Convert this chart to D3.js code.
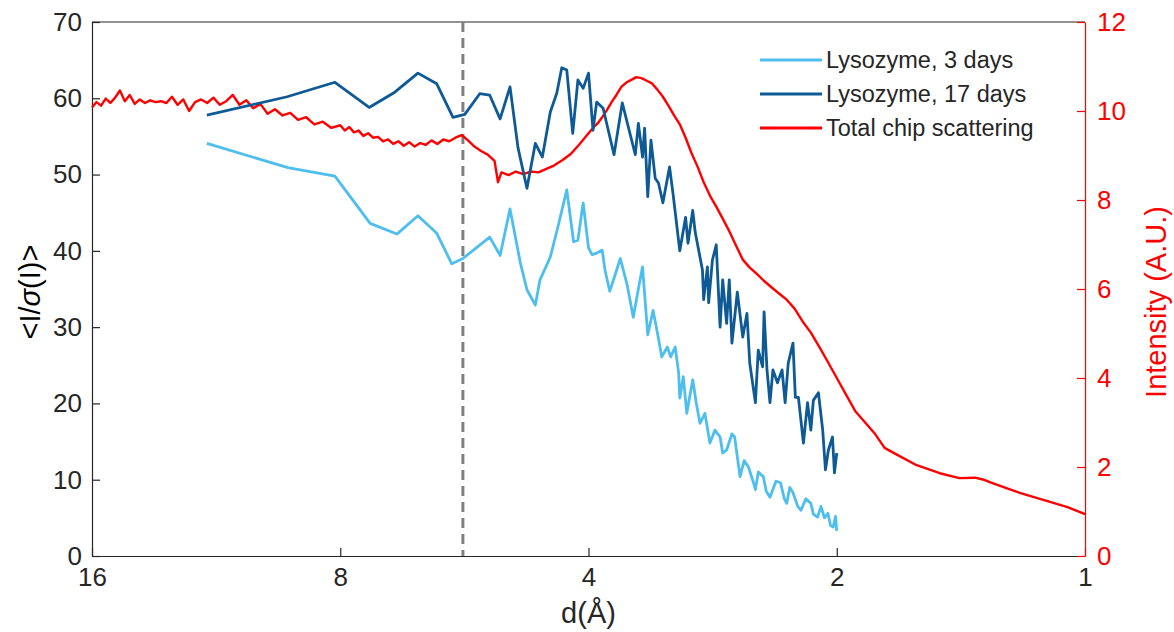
<!DOCTYPE html>
<html>
<head>
<meta charset="utf-8">
<script src="https://cdn.jsdelivr.net/npm/d3@7"></script>
<style>
  body { margin: 0; background: #fff; }
  svg { font-family: "Liberation Sans", Arial, Helvetica, sans-serif; }
</style>
</head>
<body>
<script>
// resolution d (Angstrom) and <I/sigma(I)> for the 3 day sample
var d_3days = [11.61, 9.26, 8.12, 7.36, 6.83, 6.44, 6.11, 5.86, 5.68, 5.27, 5.12, 4.98, 4.84, 4.75, 4.64, 4.58, 4.45, 4.36, 4.25, 4.17,
  4.12, 4.06, 4.00, 3.96, 3.91, 3.85, 3.82, 3.77, 3.71, 3.66, 3.59, 3.53, 3.48, 3.44, 3.39, 3.34, 3.29, 3.26, 3.21, 3.18,
  3.14, 3.11, 3.10, 3.07, 3.04, 2.99, 2.96, 2.93, 2.89, 2.85, 2.81, 2.77, 2.75, 2.72, 2.68, 2.66, 2.62, 2.59, 2.56, 2.53,
  2.51, 2.49, 2.455, 2.435, 2.41, 2.37, 2.34, 2.315, 2.30, 2.28, 2.26, 2.23, 2.21, 2.18, 2.15, 2.135, 2.11, 2.09, 2.07, 2.05,
  2.035, 2.02, 2.007, 2.0];
var isig_3days = [54.1, 50.9, 49.8, 43.6, 42.2, 44.6, 42.3, 38.3, 39.0, 41.8, 39.4, 45.5, 38.5, 34.9, 32.9, 36.2, 39.2, 43.0, 48.0, 41.2,
  41.4, 46.3, 40.4, 39.5, 39.7, 40.1, 37.5, 34.7, 37.0, 39.0, 35.5, 31.3, 35.0, 37.9, 29.0, 32.2, 28.5, 26.1, 27.4, 26.1,
  27.4, 24.0, 20.7, 23.5, 18.7, 23.1, 20.0, 17.4, 18.7, 14.8, 16.5, 15.6, 13.5, 13.9, 16.0, 15.6, 10.4, 12.5, 11.7, 10.0,
  8.7, 11.0, 10.4, 8.5, 7.7, 9.8, 9.6, 7.5, 6.9, 9.0, 8.3, 6.5, 6.0, 7.5, 6.9, 5.5, 5.1, 6.5, 5.0, 5.6,
  4.0, 3.8, 5.2, 3.3];

// 17 day sample
var d_17days = [11.61, 9.28, 8.12, 7.38, 6.87, 6.44, 6.11, 5.84, 5.65, 5.42, 5.27, 5.12, 4.98, 4.87, 4.75, 4.64, 4.55, 4.45, 4.37, 4.31,
  4.25, 4.18, 4.12, 4.06, 4.00, 3.95, 3.91, 3.84, 3.725, 3.64, 3.51, 3.48, 3.44, 3.42, 3.39, 3.36, 3.32, 3.29, 3.25, 3.19,
  3.16, 3.10, 3.05, 3.03, 2.99, 2.97, 2.91, 2.90, 2.87, 2.86, 2.83, 2.80, 2.77, 2.75, 2.72, 2.70, 2.68, 2.64, 2.60, 2.57,
  2.55, 2.51, 2.49, 2.46, 2.45, 2.43, 2.41, 2.39, 2.36, 2.33, 2.31, 2.29, 2.26, 2.245, 2.226, 2.195, 2.17, 2.15, 2.135, 2.105,
  2.08, 2.064, 2.047, 2.024, 2.013, 2.0];
var isig_17days = [57.8, 60.2, 62.1, 58.8, 60.8, 63.3, 61.9, 57.5, 57.9, 60.6, 60.4, 57.3, 61.5, 53.5, 48.2, 54.1, 52.3, 58.2, 60.7, 64.0,
  63.7, 55.4, 62.4, 61.3, 63.3, 55.8, 59.5, 58.7, 52.6, 59.4, 52.6, 56.7, 52.3, 56.1, 47.1, 54.5, 49.5, 48.9, 46.3, 51.0,
  47.6, 40.0, 44.4, 41.0, 45.3, 42.5, 37.5, 33.6, 37.9, 33.2, 38.8, 40.8, 30.0, 36.2, 30.5, 36.2, 27.9, 34.6, 28.7, 31.8,
  25.3, 20.1, 27.0, 24.8, 32.0, 24.4, 20.1, 24.4, 22.7, 24.4, 20.1, 25.3, 27.9, 20.8, 20.8, 14.8, 20.1, 16.5, 20.4, 21.4,
  16.5, 11.3, 13.9, 15.6, 10.9, 13.5];

// total chip scattering, right axis (A.U.)
var d_chip = [16.0, 15.8, 15.6, 15.4, 15.2, 15.0, 14.8, 14.6, 14.4, 14.2, 14.0, 13.8, 13.6, 13.4, 13.2, 13.0, 12.8, 12.6, 12.4, 12.2,
  12.0, 11.8, 11.6, 11.4, 11.2, 11.0, 10.8, 10.6, 10.4, 10.2, 10.0, 9.8, 9.6, 9.4, 9.2, 9.0, 8.8, 8.6, 8.4, 8.2,
  8.0, 7.9, 7.8, 7.7, 7.6, 7.5, 7.4, 7.3, 7.2, 7.1, 7.0, 6.9, 6.8, 6.7, 6.6, 6.5, 6.4, 6.3, 6.2, 6.1,
  6.0, 5.9, 5.8, 5.7, 5.6, 5.5, 5.4, 5.3, 5.2, 5.15, 5.1, 5.0, 4.9, 4.8, 4.7, 4.6, 4.5, 4.4, 4.3, 4.2,
  4.1, 4.0, 3.95, 3.9, 3.85, 3.8, 3.75, 3.7, 3.65, 3.6, 3.55, 3.5, 3.45, 3.4, 3.35, 3.3, 3.25, 3.2, 3.15, 3.1,
  3.05, 3.0, 2.95, 2.9, 2.85, 2.8, 2.75, 2.7, 2.65, 2.6, 2.55, 2.5, 2.45, 2.4, 2.35, 2.3, 2.25, 2.2, 2.15, 2.1,
  2.05, 2.0, 1.9, 1.8, 1.75, 1.7, 1.6, 1.5, 1.42, 1.36, 1.33, 1.3, 1.2, 1.1, 1.05, 1.0];
var int_chip = [10.08, 10.20, 10.12, 10.28, 10.18, 10.30, 10.46, 10.22, 10.36, 10.16, 10.26, 10.18, 10.24, 10.20, 10.22, 10.18, 10.32, 10.14, 10.26, 10.00,
  10.20, 10.26, 10.18, 10.30, 10.14, 10.22, 10.36, 10.14, 10.24, 10.06, 10.16, 9.94, 10.04, 9.90, 9.96, 9.80, 9.86, 9.70, 9.76, 9.62,
  9.68, 9.56, 9.64, 9.52, 9.56, 9.44, 9.50, 9.40, 9.42, 9.32, 9.36, 9.26, 9.32, 9.22, 9.30, 9.20, 9.28, 9.24, 9.34, 9.26,
  9.36, 9.32, 9.40, 9.46, 9.34, 9.20, 9.10, 9.02, 8.88, 8.40, 8.62, 8.56, 8.64, 8.58, 8.64, 8.62, 8.70, 8.78, 8.90, 9.04,
  9.26, 9.50, 9.62, 9.72, 9.86, 10.02, 10.20, 10.36, 10.54, 10.64, 10.70, 10.76, 10.74, 10.68, 10.62, 10.48, 10.32, 10.12, 9.90, 9.70,
  9.40, 9.05, 8.75, 8.40, 8.10, 7.85, 7.58, 7.30, 6.98, 6.66, 6.48, 6.34, 6.18, 6.04, 5.90, 5.76, 5.56, 5.27, 5.02, 4.70,
  4.36, 4.00, 3.26, 2.76, 2.43, 2.30, 2.04, 1.86, 1.75, 1.76, 1.72, 1.65, 1.42, 1.21, 1.10, 0.94];

var x_ticks = [16, 8, 4, 2, 1];
var left_ticks = [0, 10, 20, 30, 40, 50, 60, 70];
var right_ticks = [0, 2, 4, 6, 8, 10, 12];
var cutoff_d = 5.68;

var legend_labels = ["Lysozyme, 3 days", "Lysozyme, 17 days", "Total chip scattering"];
var legend_colors = ["#4dbeee", "#0e5a96", "#ff0000"];

var width = 1174, height = 632;
var plot_left = 92, plot_right = 1085, plot_top = 22, plot_bottom = 556;
var ink = "#262626";
var tick_font = "26px", title_font = "29px", legend_font = "23.5px";

var svg = d3.select("body").append("svg")
    .attr("width", width)
    .attr("height", height);

var x = d3.scaleLog().domain([16, 1]).range([plot_left, plot_right]);
var yL = d3.scaleLinear().domain([0, 70]).range([plot_bottom, plot_top]);
var yR = d3.scaleLinear().domain([0, 12]).range([plot_bottom, plot_top]);

// frame top
svg.append("line")
    .attr("x1", plot_left).attr("x2", plot_right)
    .attr("y1", plot_top).attr("y2", plot_top)
    .attr("stroke", ink).attr("stroke-width", 1.2);

var gx = svg.append("g")
    .attr("transform", "translate(0," + plot_bottom + ")")
    .call(d3.axisBottom(x).tickValues(x_ticks).tickFormat(d3.format("d"))
      .tickSize(-8).tickSizeOuter(0).tickPadding(12));

var gl = svg.append("g")
    .attr("transform", "translate(" + plot_left + ",0)")
    .call(d3.axisLeft(yL).tickValues(left_ticks).tickSize(-8).tickSizeOuter(0).tickPadding(10));

var gr = svg.append("g")
    .attr("transform", "translate(" + plot_right + ",0)")
    .call(d3.axisRight(yR).tickValues(right_ticks).tickSize(-8).tickSizeOuter(0).tickPadding(12));

[gx, gl].forEach(function(g){
  g.selectAll("path, line").attr("stroke", ink).attr("stroke-width", 1.2);
  g.selectAll("text").attr("fill", ink).style("font-size", tick_font);
});
gr.selectAll("path, line").attr("stroke", "#ff0000").attr("stroke-width", 1.2);
gr.selectAll("text").attr("fill", "#ff0000").style("font-size", tick_font);

// cutoff line
svg.append("line")
    .attr("x1", x(cutoff_d)).attr("x2", x(cutoff_d))
    .attr("y1", plot_top).attr("y2", plot_bottom)
    .attr("stroke", "#808080").attr("stroke-width", 3)
    .attr("stroke-dasharray", "10,6");

var lineL = d3.line().x(function(d){ return x(d[0]); }).y(function(d){ return yL(d[1]); });
var lineR = d3.line().x(function(d){ return x(d[0]); }).y(function(d){ return yR(d[1]); });

svg.append("path")
    .attr("d", lineR(d3.zip(d_chip, int_chip)))
    .attr("fill", "none").attr("stroke", legend_colors[2])
    .attr("stroke-width", 2.4).attr("stroke-linejoin", "round");

svg.append("path")
    .attr("d", lineL(d3.zip(d_3days, isig_3days)))
    .attr("fill", "none").attr("stroke", legend_colors[0])
    .attr("stroke-width", 2.8).attr("stroke-linejoin", "round");

svg.append("path")
    .attr("d", lineL(d3.zip(d_17days, isig_17days)))
    .attr("fill", "none").attr("stroke", legend_colors[1])
    .attr("stroke-width", 2.8).attr("stroke-linejoin", "round");

// legend
var leg = svg.append("g").selectAll("g")
    .data(legend_labels)
  .enter().append("g")
    .attr("transform", function(d, i){ return "translate(760," + (60 + i * 34) + ")"; });
leg.append("line")
    .attr("x1", 0).attr("x2", 62)
    .attr("stroke", function(d, i){ return legend_colors[i]; })
    .attr("stroke-width", 2.8);
leg.append("text")
    .attr("x", 66).attr("dy", "0.35em")
    .attr("fill", ink).style("font-size", legend_font)
    .text(function(d){ return d; });

// axis titles
svg.append("text")
    .attr("x", (plot_left + plot_right) / 2).attr("y", 623)
    .attr("text-anchor", "middle").attr("fill", ink).style("font-size", title_font)
    .text("d(Å)");

var tl = svg.append("text")
    .attr("transform", "translate(40,292) rotate(-90)")
    .attr("text-anchor", "middle").attr("fill", "#000").style("font-size", title_font);
tl.append("tspan").text("<I/");
tl.append("tspan").style("font-style", "italic").text("σ");
tl.append("tspan").text("(I)>");

svg.append("text")
    .attr("transform", "translate(1166,302) rotate(-90)")
    .attr("text-anchor", "middle").attr("fill", "#ff0000").style("font-size", title_font)
    .text("Intensity (A.U.)");
</script>
</body>
</html>
